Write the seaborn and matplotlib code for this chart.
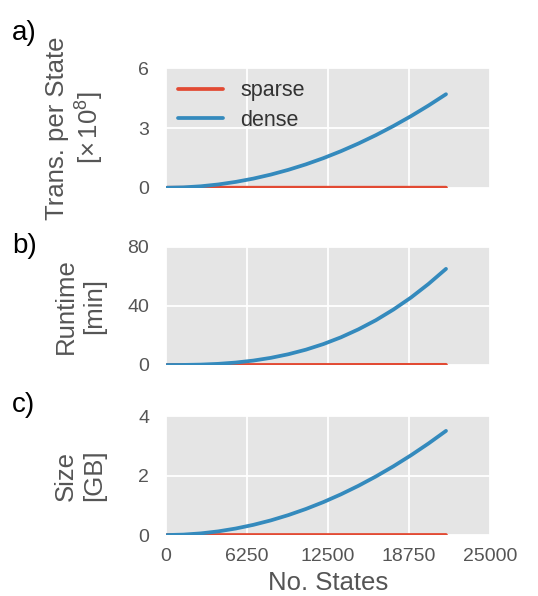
import numpy as np
import pandas as pd
import matplotlib
matplotlib.use("Agg")
import matplotlib.pyplot as plt
import seaborn as sns

# ---- data ----
states = [100, 1350, 2700, 4050, 5400, 6750, 8100, 9450, 10800, 12150,
          13500, 14850, 16200, 17550, 18900, 20250, 21600]
trans_dense = [0.0, 0.018, 0.073, 0.165, 0.294, 0.459, 0.661, 0.900, 1.175, 1.487,
               1.836, 2.222, 2.644, 3.103, 3.598, 4.131, 4.70]
trans_sparse = [0.0, 0.0001, 0.0002, 0.0004, 0.0005, 0.0007, 0.0008, 0.001, 0.0011, 0.0012,
                0.0014, 0.0015, 0.0016, 0.0018, 0.0019, 0.002, 0.0022]
runtime_dense = [0.0, 0.04, 0.26, 0.77, 1.65, 2.98, 4.83, 7.27, 10.35, 14.15,
                 18.7, 24.1, 30.3, 37.5, 45.6, 54.8, 65.0]
runtime_sparse = [0.0, 0.0, 0.01, 0.01, 0.02, 0.02, 0.03, 0.03, 0.04, 0.05,
                  0.05, 0.06, 0.07, 0.07, 0.08, 0.09, 0.1]
size_dense = [0.0, 0.014, 0.055, 0.123, 0.219, 0.342, 0.492, 0.670, 0.875, 1.107,
              1.367, 1.654, 1.969, 2.311, 2.680, 3.076, 3.50]
size_sparse = [0.0, 0.0001, 0.0002, 0.0003, 0.0004, 0.0005, 0.0006, 0.0007, 0.0008, 0.0009,
               0.001, 0.0011, 0.0012, 0.0013, 0.0014, 0.0015, 0.0016]

methods = ["sparse", "dense"]
panel_letters = ["a)", "b)", "c)"]
ylabels = ["Trans. per State\n[$\\times\\,10^8$]", "Runtime\n[min]", "Size\n[GB]"]
yticks = [[0, 3, 6], [0, 40, 80], [0, 2, 4]]
xticks = [0, 6250, 12500, 18750, 25000]
xlabel = "No. States"

palette = {"sparse": "#E24A33", "dense": "#348ABD"}

# ---- style ----
sns.set_style("darkgrid", {"axes.facecolor": "#E5E5E5", "grid.color": "white"})
plt.rcParams["font.family"] = ["Liberation Sans", "DejaVu Sans"]
plt.rcParams["mathtext.fontset"] = "custom"
plt.rcParams["mathtext.rm"] = "Liberation Sans"
plt.rcParams["mathtext.it"] = "Liberation Sans:italic"

fig = plt.figure(figsize=(5.38, 5.96), dpi=100)

positions = [
    [0.308, 0.685, 0.603, 0.2003],
    [0.308, 0.3876, 0.603, 0.1985],
    [0.308, 0.1023, 0.603, 0.1997],
]
datasets = [
    (trans_sparse, trans_dense),
    (runtime_sparse, runtime_dense),
    (size_sparse, size_dense),
]
letter_y = [1 - 33 / 596, 1 - 246 / 596, 1 - 405 / 596]

for i, (pos, (sp, de)) in enumerate(zip(positions, datasets)):
    ax = fig.add_axes(pos)
    df = pd.DataFrame({
        "states": states * 2,
        "value": list(sp) + list(de),
        "method": ["sparse"] * len(states) + ["dense"] * len(states),
    })
    sns.lineplot(data=df, x="states", y="value", hue="method", hue_order=methods,
                 palette=palette, linewidth=2.7, ax=ax, legend=(i == 0))
    ax.set_xlim(0, 25000)
    ax.set_xticks(xticks)
    ax.set_ylim(yticks[i][0], yticks[i][-1])
    ax.set_yticks(yticks[i])
    ax.grid(True, color="white", linewidth=1.3)
    for s in ax.spines.values():
        s.set_visible(False)
    ax.tick_params(axis="both", length=0, labelsize=14, labelcolor="#555555")
    ax.tick_params(axis="y", pad=12)
    ax.tick_params(axis="x", pad=9)
    ax.set_ylabel(ylabels[i], fontsize=18.5, color="#555555", linespacing=1.2)
    ax.yaxis.set_label_coords(-0.185, 0.5)
    if i < 2:
        ax.set_xlabel("")
        ax.set_xticklabels([])
    else:
        ax.set_xlabel(xlabel, fontsize=18.5, color="#555555", labelpad=5)
    if i == 0:
        leg = ax.legend(loc="upper left", frameon=False, fontsize=15.5,
                        handlelength=2.1, borderaxespad=0.15, labelspacing=0.4,
                        handletextpad=0.8)
        for t in leg.get_texts():
            t.set_color("#333333")
    fig.text(0.022, letter_y[i], panel_letters[i], fontsize=20, color="black",
             va="center", ha="left")

fig.savefig("out.png", dpi=100)
